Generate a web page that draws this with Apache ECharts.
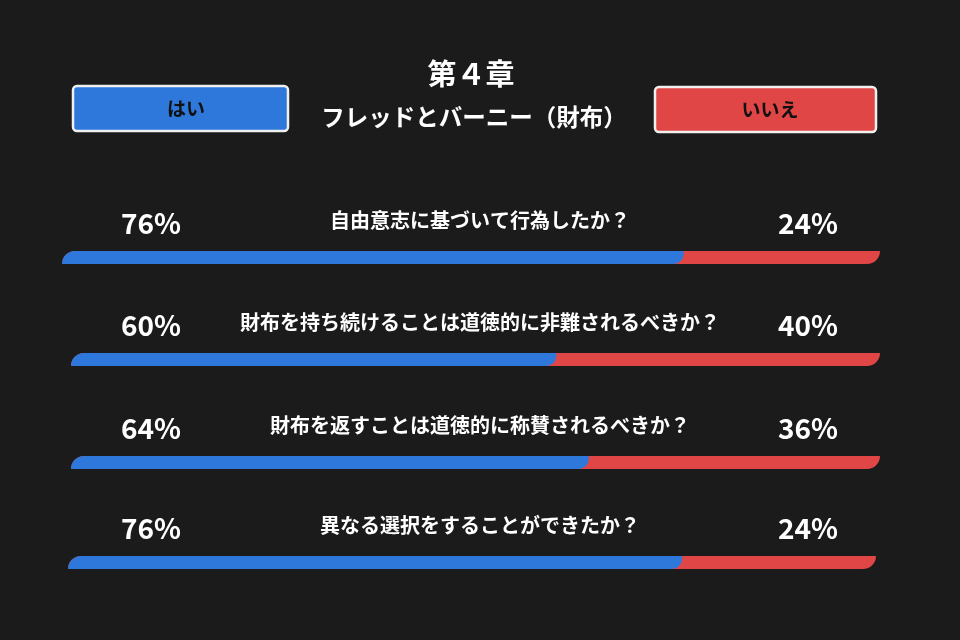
<!DOCTYPE html>
<html>
<head>
<meta charset="utf-8">
<script src="https://cdn.jsdelivr.net/npm/echarts@6/dist/echarts.min.js"></script>
<style>
html,body{margin:0;padding:0;background:#1b1b1b;}
#chart{width:960px;height:640px;}
</style>
</head>
<body>
<div id="chart"></div>
<script>
const chapterTitle = '第４章';
const subTitle = 'フレッドとバーニー（財布）';
const seriesNames = ['はい', 'いいえ'];
const questions = [
  '自由意志に基づいて行為したか？',
  '財布を持ち続けることは道徳的に非難されるべきか？',
  '財布を返すことは道徳的に称賛されるべきか？',
  '異なる選択をすることができたか？'
];
const yesValues = [76, 60, 64, 76];
const noValues = [24, 40, 36, 24];

// layout (pixel positions of each row)
const rows = [
  {left: 62, end: 880, cy: 257.5},
  {left: 71, end: 880, cy: 359.5},
  {left: 71, end: 880, cy: 462.5},
  {left: 68, end: 876, cy: 562.5}
];
const BLUE = '#2e78dc';
const RED = '#e04646';
const FONT = '"Noto Sans CJK JP", "Noto Sans", sans-serif';
const leftPctX = 151, rightPctX = 808, labelDy = -34;

const chart = echarts.init(document.getElementById('chart'), null, {renderer: 'canvas'});

const grids = [], xAxes = [], yAxes = [], series = [];
rows.forEach((r, i) => {
  grids.push({left: r.left, width: r.end - r.left, top: r.cy - 6.5, height: 13, containLabel: false});
  xAxes.push({type: 'value', gridIndex: i, min: 0, max: 100, show: false});
  yAxes.push({type: 'category', gridIndex: i, data: [questions[i]], show: false});
  series.push({
    name: seriesNames[1], type: 'bar', xAxisIndex: i, yAxisIndex: i,
    data: [yesValues[i] + noValues[i]], barWidth: 13, barGap: '-100%',
    silent: true, animation: false,
    itemStyle: {color: RED, borderRadius: [13, 0, 13, 0]},
    label: {
      show: true, position: [rightPctX - r.left, 6.5 + labelDy],
      align: 'center', verticalAlign: 'middle',
      formatter: () => noValues[i] + '%',
      color: '#ffffff', fontFamily: FONT, fontWeight: 'bold', fontSize: 28
    },
    z: 2
  });
  series.push({
    name: seriesNames[0], type: 'bar', xAxisIndex: i, yAxisIndex: i,
    data: [yesValues[i]], barWidth: 13, barGap: '-100%',
    silent: true, animation: false,
    itemStyle: {color: BLUE, borderRadius: [13, 0, 10, 0]},
    label: {
      show: true, position: [leftPctX - r.left, 6.5 + labelDy],
      align: 'center', verticalAlign: 'middle',
      formatter: '{c}%',
      color: '#ffffff', fontFamily: FONT, fontWeight: 'bold', fontSize: 28
    },
    z: 3
  });
});

const graphics = [];
graphics.push({type: 'text', x: 471, y: 74, style: {text: chapterTitle, fill: '#fff', font: 'bold 29px ' + FONT, textAlign: 'center', textVerticalAlign: 'middle'}});
graphics.push({type: 'text', x: 474, y: 117, style: {text: subTitle, fill: '#fff', font: 'bold 23.5px ' + FONT, textAlign: 'center', textVerticalAlign: 'middle'}});
rows.forEach((r, i) => {
  graphics.push({type: 'text', x: 480, y: r.cy - 37, style: {text: questions[i], fill: '#fff', font: 'bold 20px ' + FONT, textAlign: 'center', textVerticalAlign: 'middle'}});
});
// legend boxes
graphics.push({type: 'rect', shape: {x: 73, y: 86, width: 215, height: 45, r: 4}, style: {fill: BLUE, stroke: '#f0f0f0', lineWidth: 2.5}});
graphics.push({type: 'text', x: 186, y: 109, style: {text: seriesNames[0], fill: '#111', font: 'bold 19px ' + FONT, textAlign: 'center', textVerticalAlign: 'middle'}});
graphics.push({type: 'rect', shape: {x: 655, y: 87, width: 221, height: 45, r: 4}, style: {fill: RED, stroke: '#f0f0f0', lineWidth: 2.5}});
graphics.push({type: 'text', x: 770, y: 110, style: {text: seriesNames[1], fill: '#111', font: 'bold 19px ' + FONT, textAlign: 'center', textVerticalAlign: 'middle'}});

chart.setOption({
  backgroundColor: '#1b1b1b',
  animation: false,
  grid: grids,
  xAxis: xAxes,
  yAxis: yAxes,
  series: series,
  graphic: graphics
});
</script>
</body>
</html>
